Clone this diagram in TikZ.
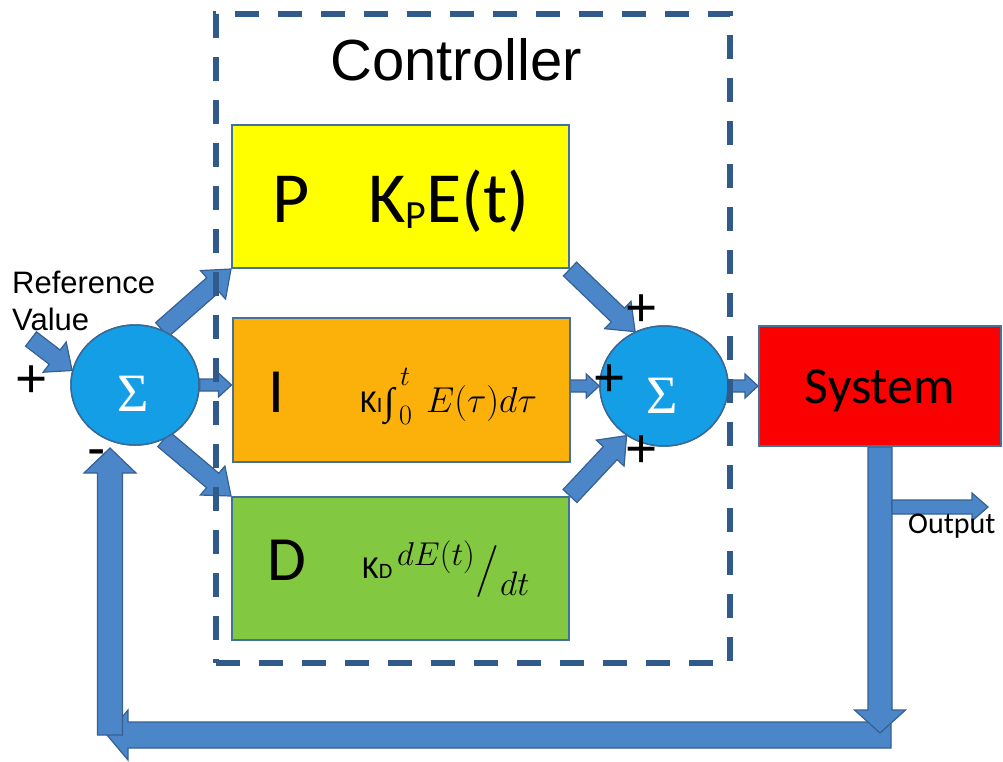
\RequirePackage{fix-cm}
\documentclass[tikz,border=0pt]{standalone}
\usepackage{fontspec}
\usetikzlibrary{calc,shapes.geometric}

\newfontfamily\arialf{Liberation Sans}
\newfontfamily\calib{Carlito}
\newfontfamily\serifg{Liberation Serif}

\definecolor{arrowfill}{RGB}{74,134,200}
\definecolor{arrowedge}{RGB}{54,96,146}
\definecolor{sumfill}{RGB}{20,158,230}
\definecolor{sumedge}{RGB}{58,104,150}
\definecolor{boxedge}{RGB}{65,113,156}
\definecolor{ctrlblue}{RGB}{47,90,137}
\definecolor{pyellow}{RGB}{255,255,0}
\definecolor{iorange}{RGB}{251,177,10}
\definecolor{dgreen}{RGB}{130,200,65}
\definecolor{sysred}{RGB}{250,0,0}

% block arrow: #1 tail, #2 tip, #3 half shaft width, #4 half head width, #5 head length
\newcommand\blockarrow[5]{%
  \path ($(#2)!#5!(#1)$) coordinate (ba-h);
  \filldraw[blockarr] ($(#1)!#3!90:(#2)$) -- ($(ba-h)!#3!90:(#2)$)
    -- ($(ba-h)!#4!90:(#2)$) -- (#2) -- ($(ba-h)!#4!-90:(#2)$)
    -- ($(ba-h)!#3!-90:(#2)$) -- ($(#1)!#3!-90:(#2)$) -- cycle;}

\tikzset{
  blockarr/.style={fill=arrowfill, draw=arrowedge, line width=1.2pt, line join=miter},
  sum/.style={ellipse, fill=sumfill, draw=sumedge, line width=1.5pt,
    minimum width=128pt, minimum height=120pt, inner sep=0pt},
  termbox/.style={draw=boxedge, line width=2pt, minimum width=337pt,
    minimum height=143pt, inner sep=0pt},
  ctrl/.style={draw=ctrlblue, line width=6pt, dash pattern=on 24pt off 19pt,
    minimum width=514pt, minimum height=649pt, inner sep=0pt},
  sigma/.style={text=white, inner sep=0pt, font=\serifg\fontsize{54}{54}\selectfont},
  sign/.style={anchor=base, inner sep=0pt, font=\arialf\fontsize{55}{55}\selectfont},
  lbl/.style={anchor=base west, inner sep=0pt},
  mth/.style={lbl, font=\fontsize{#1}{#1}\selectfont},
}

\begin{document}
\begin{tikzpicture}[x=1pt, y=-1pt]
\useasboundingbox (0,0) rectangle (1003,761);

% summing junctions and blocks (placed first so arrows can refer to them)
\path node[sum] (s1) at (135,385) {}
      node[sum] (s2) at (664,386) {}
      node[termbox] (P) at (400.5,196.5) {}
      node[termbox, minimum height=144pt] (I) at (401,390) {}
      node[termbox] (D) at (400.5,568.5) {}
      node[termbox, minimum width=242pt, minimum height=120pt] (Sys) at (880,386) {};

% loose ends of the signal paths
\coordinate (refin) at (31,339);
\coordinate (fbR) at (880,733);
\coordinate (fbRt) at (891,735);
\coordinate (fbL) at (107,735);
\coordinate (fbLt) at (110,735);
\coordinate (fbUp) at (110,448);
\coordinate (outS) at (892,507);
\coordinate (outE) at (988,507);

% arrows
\blockarrow{refin}{s1.167}{9pt}{19pt}{22pt}
\blockarrow{s1.64}{P.south west}{9.5pt}{19pt}{24pt}
\blockarrow{s1.east}{I.west |- s1.east}{6pt}{12pt}{13pt}
\blockarrow{s1.-62}{D.north west}{9.5pt}{19pt}{24pt}
\blockarrow{P.south east}{s2.118}{9.5pt}{19pt}{24pt}
\blockarrow{I.east |- s2.west}{s2.west}{6pt}{12pt}{13pt}
\blockarrow{D.north east}{s2.233}{9.5pt}{19pt}{24pt}
\blockarrow{s2.east}{Sys.west |- s2.east}{6pt}{12pt}{13pt}
\blockarrow{fbRt}{fbL}{13pt}{25pt}{21pt}
\blockarrow{fbLt}{fbUp}{12.5pt}{26pt}{25pt}
\blockarrow{Sys.south}{fbR}{12pt}{25.5pt}{23pt}
\blockarrow{outS}{outE}{7pt}{14pt}{16pt}

% redraw junctions and blocks on top of the arrow ends
\node[sum] at (s1) {};
\node[sum] at (s2) {};
\node[termbox, fill=pyellow] at (P) {};
\node[termbox, fill=iorange, minimum height=144pt] at (I) {};
\node[termbox, fill=dgreen] at (D) {};
\node[termbox, fill=sysred, minimum width=242pt, minimum height=120pt] at (Sys) {};

\node[sigma] (sig1) at (133,394) {Σ};
\node[sigma] (sig2) at (662,396) {Σ};

% controller frame
\node[ctrl] (ctrlbox) at (473,338.5) {};
\node[anchor=base, inner sep=0pt, font=\arialf\fontsize{58}{58}\selectfont] (ctitle) at (456,80) {Controller};

% P term
\node[lbl, font=\calib\fontsize{72}{72}\selectfont] (ptxt) at (272,222) {P};
\node[lbl, font=\calib\fontsize{72}{72}\selectfont] (pgain) at (368,222)
  {K\raisebox{-6pt}{\fontsize{40}{40}\selectfont P}E(t)};

% I term
\node[lbl, font=\calib\fontsize{63}{63}\selectfont] (itxt) at (268,412) {I};
\node[lbl, font=\calib\fontsize{32}{32}\selectfont] (igain) at (360,412)
  {K{\fontsize{22}{22}\selectfont I}};
\node[lbl, font=\serifg\fontsize{38}{38}\selectfont] (iint) at (384,414) {∫};
\node[mth=28] (iup) at (400,385) {$t$};
\node[mth=28] (ilow) at (399,424) {$0$};
\node[mth=36] (iarg) at (426,412) {$E(\tau)d\tau$};

% D term
\node[lbl, font=\calib\fontsize{63}{63}\selectfont] (dtxt) at (267,580) {D};
\node[lbl, font=\calib\fontsize{32}{32}\selectfont] (dgain) at (362,578)
  {K{\fontsize{22}{22}\selectfont D}};
\node[mth=33] (dnum) at (397,565) {$dE(t)$};
\node[mth=52] (dslash) at (475,584) {$/$};
\node[mth=34] (dden) at (500,595) {$dt$};

\node[anchor=base, inner sep=0pt, font=\calib\fontsize{52}{52}\selectfont] (systxt) at (880,403) {System};

% signal labels
\node[lbl, align=left, font=\arialf\fontsize{31}{37}\selectfont] (reflbl) at (12,330) {Reference\\Value};
\node[lbl, font=\calib\fontsize{30}{30}\selectfont] (outlbl) at (908,533) {Output};

\node[sign] (pin) at (32,397) {+};
\node[sign] (min) at (97,466) {-};
\node[sign] (pp) at (642,326) {+};
\node[sign] (pi) at (610,396) {+};
\node[sign] (pd) at (642,467) {+};
\end{tikzpicture}
\end{document}
